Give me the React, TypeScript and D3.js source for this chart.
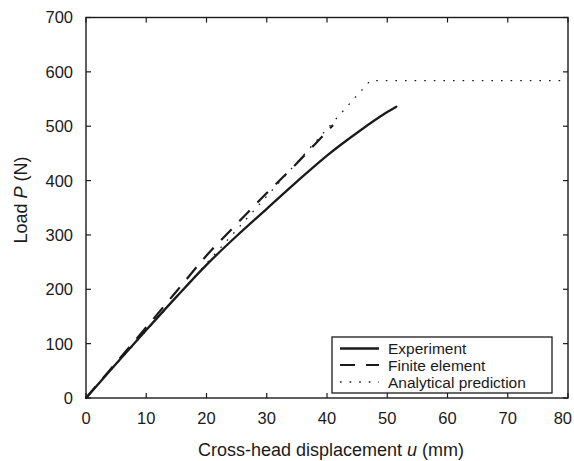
import React from "react";
import * as d3 from "d3";

const expU = [0, 5, 10, 15, 20, 25, 30, 35, 40, 45, 50, 51.5];
const expP = [0, 63, 125, 186, 245, 298, 348, 398, 446, 488, 526, 536];

const feU = [0, 5, 10, 15, 20, 25, 30, 35, 38, 41];
const feP = [0, 65, 130, 196, 262, 320, 377, 432, 467, 502];

const anU = [0, 47.2, 80];
const anP = [0, 584, 584];

const xTicks = [0, 10, 20, 30, 40, 50, 60, 70, 80];
const yTicks = [0, 100, 200, 300, 400, 500, 600, 700];

const legendLabels = ["Experiment", "Finite element", "Analytical prediction"];

const W = 574;
const H = 461;
const L = 86;
const R = 568;
const T = 17.5;
const B = 398;
const FONT = "Arial, 'Liberation Sans', Helvetica, sans-serif";
const INK = "#1a1a1a";

export default function App() {
  const x = d3.scaleLinear().domain([0, 80]).range([L, R]);
  const y = d3.scaleLinear().domain([0, 700]).range([B, T]);
  const smooth = d3
    .line<[number, number]>()
    .x((d) => x(d[0]))
    .y((d) => y(d[1]))
    .curve(d3.curveMonotoneX);
  const straight = d3
    .line<[number, number]>()
    .x((d) => x(d[0]))
    .y((d) => y(d[1]));
  const expPath = smooth(expU.map((u, i) => [u, expP[i]]))!;
  const fePath = smooth(feU.map((u, i) => [u, feP[i]]))!;
  const anPath = straight(anU.map((u, i) => [u, anP[i]]))!;

  const styles = [
    { w: 2.3, dash: undefined as string | undefined },
    { w: 2.2, dash: "15 11" },
    { w: 1.3, dash: "1.6 8" },
  ];

  const lgX = 332;
  const lgY = 337;
  const lgW = 220;
  const lgH = 56;
  const rows = [348.5, 365, 382];

  return (
    <svg
      width={W}
      height={H}
      style={{ position: "absolute", left: 0, top: 0, background: "#fff" }}
      fontFamily={FONT}
    >
      <rect x={0} y={0} width={W} height={H} fill="#fff" />
      {/* curves */}
      <path d={anPath} fill="none" stroke={INK} strokeWidth={styles[2].w} strokeDasharray={styles[2].dash} />
      <path d={fePath} fill="none" stroke={INK} strokeWidth={styles[1].w} strokeDasharray={styles[1].dash} />
      <path d={expPath} fill="none" stroke={INK} strokeWidth={styles[0].w} strokeLinejoin="round" strokeLinecap="round" />

      {/* axes box */}
      <rect x={L} y={T} width={R - L} height={B - T} fill="none" stroke={INK} strokeWidth={1.4} />
      {xTicks.map((t, i) => {
        const last = i === xTicks.length - 1;
        return (
          <g key={"x" + t}>
            <line x1={x(t)} x2={x(t)} y1={B} y2={B - 5} stroke={INK} strokeWidth={1.2} />
            <line x1={x(t)} x2={x(t)} y1={T} y2={T + 5} stroke={INK} strokeWidth={1.2} />
            <text
              x={last ? 572 : x(t)}
              y={423.5}
              textAnchor={last ? "end" : "middle"}
              fontSize={16.5}
              fill={INK}
            >
              {t}
            </text>
          </g>
        );
      })}
      {yTicks.map((t) => (
        <g key={"y" + t}>
          <line x1={L} x2={L + 5} y1={y(t)} y2={y(t)} stroke={INK} strokeWidth={1.2} />
          <line x1={R} x2={R - 5} y1={y(t)} y2={y(t)} stroke={INK} strokeWidth={1.2} />
          <text x={73} y={y(t)} dy="0.36em" textAnchor="end" fontSize={16.5} fill={INK}>
            {t}
          </text>
        </g>
      ))}

      {/* axis labels */}
      <text x={331} y={456} textAnchor="middle" fontSize={18} fill={INK}>
        Cross-head displacement <tspan fontStyle="italic">u</tspan> (mm)
      </text>
      <text
        transform={`translate(27,200) rotate(-90)`}
        textAnchor="middle"
        fontSize={18}
        fill={INK}
      >
        Load <tspan fontStyle="italic">P</tspan> (N)
      </text>

      {/* legend */}
      <rect x={lgX} y={lgY} width={lgW} height={lgH} fill="#fff" stroke={INK} strokeWidth={1.3} />
      {legendLabels.map((lab, i) => (
        <g key={lab}>
          <line
            x1={340}
            x2={379}
            y1={rows[i]}
            y2={rows[i]}
            stroke={INK}
            strokeWidth={styles[i].w}
            strokeDasharray={styles[i].dash}
          />
          <text x={388} y={rows[i]} dy="0.36em" fontSize={15.5} fill={INK}>
            {lab}
          </text>
        </g>
      ))}
    </svg>
  );
}
